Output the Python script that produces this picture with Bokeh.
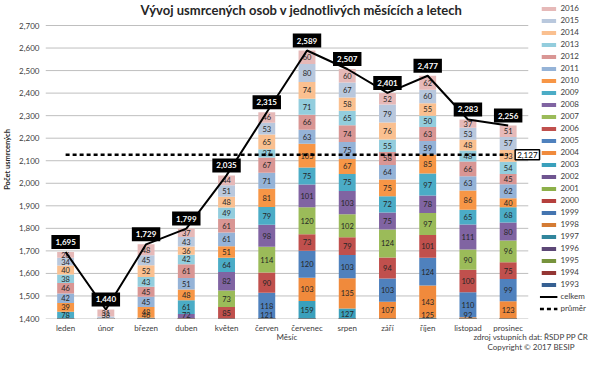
import numpy as np
from bokeh.plotting import figure
from bokeh.models import (ColumnDataSource, Range1d, Legend, LegendItem, Label,
                          NumeralTickFormatter, FixedTicker)
from bokeh.core.properties import value
from bokeh.embed import file_html
from bokeh.resources import INLINE

FONT = "Lato"

months = ["leden", "únor", "březen", "duben", "květen", "červen", "červenec",
          "srpen", "září", "říjen", "listopad", "prosinec"]
years = [str(y) for y in range(1993, 2017)]

# deaths per year 1993..2016, one list per month
leden = [96, 100, 92, 93, 93, 82, 88, 89, 82, 88, 88, 81, 75, 64, 75, 66, 78, 39, 42, 46, 38, 40, 34, 26]
unor = [77, 80, 76, 77, 79, 69, 75, 75, 69, 75, 75, 69, 64, 54, 64, 56, 47, 43, 40, 39, 33, 35, 38, 31]
brezen = [91, 96, 93, 94, 94, 83, 89, 90, 83, 89, 89, 82, 76, 65, 76, 67, 46, 48, 45, 45, 43, 52, 45, 48]
duben = [95, 101, 94, 95, 99, 87, 94, 94, 87, 94, 94, 86, 80, 68, 80, 72, 61, 48, 51, 61, 42, 36, 43, 37]
kveten = [112, 114, 110, 111, 111, 98, 106, 107, 98, 106, 106, 97, 90, 85, 73, 82, 64, 51, 61, 61, 49, 48, 51, 44]
cerven = [122, 128, 119, 120, 121, 105, 114, 115, 105, 113, 113, 121, 118, 90, 114, 98, 79, 81, 71, 67, 37, 65, 53, 46]
cervenec = [138, 146, 135, 137, 137, 119, 129, 130, 119, 129, 159, 103, 120, 73, 120, 101, 75, 105, 63, 66, 71, 74, 80, 60]
srpen = [135, 141, 136, 137, 137, 120, 130, 131, 120, 130, 127, 135, 103, 79, 102, 103, 75, 67, 75, 74, 65, 58, 67, 60]
zari = [130, 137, 128, 129, 129, 113, 122, 123, 113, 122, 121, 107, 103, 94, 124, 75, 72, 75, 64, 58, 55, 76, 79, 52]
rijen = [133, 140, 131, 132, 132, 115, 126, 127, 116, 126, 125, 143, 124, 101, 97, 78, 97, 85, 59, 63, 50, 55, 60, 62]
listopad = [122, 130, 123, 124, 124, 109, 118, 119, 109, 118, 118, 92, 110, 100, 90, 111, 65, 86, 63, 66, 48, 48, 53, 37]
prosinec = [130, 134, 126, 127, 127, 112, 121, 122, 112, 121, 121, 123, 99, 75, 96, 80, 68, 40, 62, 45, 54, 53, 57, 51]

celkem = [1695, 1440, 1729, 1799, 2035, 2315, 2589, 2507, 2401, 2477, 2283, 2256]
prumer = 2127

y_ticks = [1400, 1500, 1600, 1700, 1800, 1900, 2000, 2100, 2200, 2300, 2400, 2500, 2600, 2700]

title_text = "Vývoj usmrcených osob v jednotlivých měsících a letech"
x_title = "Měsíc"
source_note = "zdroj vstupních dat: ŘSDP PP ČR"
copyright_note = "Copyright © 2017 BESIP"

year_colors = ["#366092", "#943634", "#77933C", "#5C4776", "#31859C", "#D47B34",
               "#4475B0", "#B5403D", "#8DB04A", "#6F5590", "#3AA0BC", "#F08A3C",
               "#4F81BD", "#C0504D", "#9BBB59", "#8064A2", "#4BACC6", "#F79646",
               "#95B3D7", "#D99694", "#93CDDD", "#FAC090", "#B9C8DD", "#E6B9B8"]

month_values = [leden, unor, brezen, duben, kveten, cerven, cervenec, srpen, zari, rijen, listopad, prosinec]

W, H = 588, 356
LEFT, BOTTOM = 38, 38
YMIN = y_ticks[0]
TOP_PX = 25                      # pixels between canvas top and the top gridline
PLOT_W = 489                     # pixels taken by the twelve month slots
FRAME_W = W - LEFT
FRAME_H = H - BOTTOM
n = len(months)
xmax = n * FRAME_W / PLOT_W
ymax = y_ticks[-1] + TOP_PX * (y_ticks[-1] - YMIN) / (FRAME_H - TOP_PX)

xpos = list(np.arange(n) + 0.5)

data = {"x": xpos}
for i, y in enumerate(years):
    data[y] = [mv[i] for mv in month_values]
src = ColumnDataSource(data)

p = figure(x_range=Range1d(0, xmax), y_range=Range1d(YMIN, ymax),
           width=W, height=H, output_backend="svg", toolbar_location=None,
           min_border_left=LEFT, min_border_right=0, min_border_top=0, min_border_bottom=BOTTOM)
p.background_fill_color = "white"
p.border_fill_color = "white"
p.outline_line_color = None
p.xgrid.visible = False
p.ygrid.visible = False

# horizontal gridlines limited to the month slots
p.segment(x0=0, x1=n, y0=y_ticks, y1=y_ticks, line_color="#BFBFBF", line_width=1)

bars = p.vbar_stack(years, x="x", width=0.42, color=year_colors, line_color=None, source=src)

# segment labels
lx, ly, lt = [], [], []
for xc, vals in zip(xpos, month_values):
    cum = 0
    for v in vals:
        bottom, top = cum, cum + v
        cum = top
        if top > YMIN - 10:
            yc = (max(bottom, YMIN) + top) / 2
            lx.append(xc)
            ly.append(max(yc, YMIN + 16))
            lt.append(str(v))
p.text(x=lx, y=ly, text=lt, text_align="center", text_baseline="middle",
       text_font=value(FONT), text_font_size="7.5px", text_color="#262626")

line_total = p.line(xpos, celkem, line_color="black", line_width=2)
line_avg = p.line(xpos, [prumer] * n, line_color="black", line_width=2.5, line_dash="4 3")

for xc, v in zip(xpos, celkem):
    p.add_layout(Label(x=xc, y=v, y_offset=10, text=f"{v:,}", text_align="center",
                       text_baseline="middle", text_font=FONT, text_font_size="8px",
                       text_font_style="bold", text_color="white",
                       background_fill_color="black", padding=4))

p.add_layout(Label(x=xpos[-1], y=prumer, x_offset=7, text=f"{prumer:,}", text_align="left",
                   text_baseline="middle", text_font=FONT, text_font_size="8px", text_color="black",
                   background_fill_color="white", border_line_color="black", border_line_width=1.5,
                   padding=2))

# title drawn inside the (extended) frame, anchored to its top edge
p.add_layout(Label(x=256, x_units="screen", y=ymax, y_offset=-9, text=title_text,
                   text_align="center", text_baseline="middle", text_font=FONT,
                   text_font_size="13px", text_font_style="bold", text_color="#262626"))

# y axis
p.yaxis.ticker = FixedTicker(ticks=y_ticks)
p.yaxis.formatter = NumeralTickFormatter(format="0,0")
p.yaxis.axis_line_color = None
p.yaxis.major_tick_line_color = None
p.yaxis.minor_tick_line_color = None
p.yaxis.major_tick_out = 0
p.yaxis.major_tick_in = 0
p.yaxis.minor_tick_out = 0
p.yaxis.major_label_text_font = FONT
p.yaxis.major_label_text_font_size = "8px"
p.yaxis.major_label_text_color = "#404040"
p.yaxis.major_label_standoff = 6
p.yaxis.axis_label = "Počet usmrcených"
p.yaxis.axis_label_text_font = FONT
p.yaxis.axis_label_text_font_size = "7.5px"
p.yaxis.axis_label_text_font_style = "bold"
p.yaxis.axis_label_text_color = "#262626"
p.yaxis.axis_label_standoff = 4

# x axis: month names (row 1), axis title and source notes (rows 2-3) as tick labels
x_title_pos = n / 2
note_pos = n + 0.45
overrides = {xc: m for xc, m in zip(xpos, months)}
overrides[x_title_pos] = "\n" + x_title
overrides[note_pos] = "\n" + source_note + "\n" + copyright_note
p.xaxis.ticker = FixedTicker(ticks=xpos + [x_title_pos, note_pos])
p.xaxis.major_label_overrides = overrides
p.xaxis.axis_line_color = None
p.xaxis.major_tick_line_color = None
p.xaxis.minor_tick_line_color = None
p.xaxis.major_tick_out = 0
p.xaxis.major_tick_in = 0
p.xaxis.minor_tick_out = 0
p.xaxis.major_label_text_font = FONT
p.xaxis.major_label_text_font_size = "8px"
p.xaxis.major_label_text_line_height = 0.95
p.xaxis.major_label_text_color = "#404040"
p.xaxis.major_label_standoff = 4
p.xaxis.axis_label_standoff = 0

# legend inside the frame, top right
items = [LegendItem(label=years[i], renderers=[bars[i]]) for i in range(len(years) - 1, -1, -1)]
items.append(LegendItem(label="celkem", renderers=[line_total]))
items.append(LegendItem(label="průměr", renderers=[line_avg]))
legend = Legend(items=items, location="top_right", margin=2, padding=0, spacing=0,
                glyph_width=18, glyph_height=5, label_height=12, label_standoff=3,
                label_text_font=FONT, label_text_font_size="8px", label_text_color="#404040",
                border_line_color=None, background_fill_alpha=0)
p.add_layout(legend)

open("out.html", "w").write(file_html(p, INLINE))
